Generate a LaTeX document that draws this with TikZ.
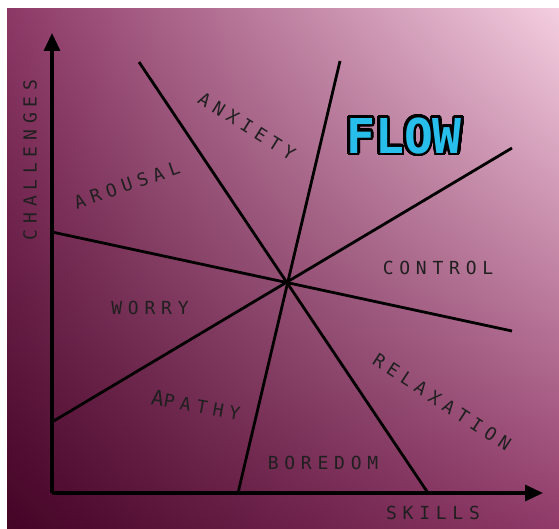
\documentclass[tikz,border=0pt]{standalone}
\usepackage{fontspec}
\usepackage{contour}
\usetikzlibrary{arrows.meta,shadings}
\newfontfamily\zonefont[LetterSpace=32]{DejaVu Sans Mono}
\newfontfamily\flowfont{DejaVu Sans Mono}
\definecolor{bgdark}{RGB}{68,4,38}
\definecolor{bgmidA}{RGB}{140,56,102}
\definecolor{bgmidB}{RGB}{144,58,105}
\definecolor{bglight}{RGB}{244,206,224}
\definecolor{flowcyan}{RGB}{40,190,235}
\contourlength{2.8pt}
\contournumber{40}
\tikzset{
  flowchart/.style={x=1pt,y={(0pt,-1pt)}},
  zone/.style={font=\zonefont\fontsize{18pt}{20pt}\selectfont,text=black!88,inner sep=0pt},
  axis/.style={line width=3.2pt,-{Triangle[length=18pt,width=16pt]}},
  divide/.style={line width=2.8pt}
}

\begin{document}
\begin{tikzpicture}[flowchart]
    \useasboundingbox (0,0) rectangle (559,529);
    \shade[lower left=bgdark,upper left=bgmidA,lower right=bgmidB,upper right=bglight]
        (7,9) rectangle (559,529);
    % axes
    \coordinate (origin) at (52,493);
    \coordinate (ytip) at (52,33);
    \coordinate (xtip) at (543,493);
    \draw[axis] (origin) -- (ytip);
    \draw[axis] (origin) -- (xtip);
    % dividing lines through the centre
    \coordinate (centre) at (287,283);
    \coordinate (wa) at (52,232);   \coordinate (wb) at (512,331);
    \coordinate (aa) at (52,422);   \coordinate (ab) at (512,148);
    \coordinate (xa) at (139,62);   \coordinate (xb) at (428,493);
    \coordinate (fa) at (340,61);   \coordinate (fb) at (238,493);
    \foreach \a/\b in {wa/wb,aa/ab,xa/xb,fa/fb}
        \draw[divide] (\a) -- (\b);
    % labels
    \node[zone,rotate=90] (challenges) at (30,160) {CHALLENGES};
    \node[zone] (skills) at (433,513) {SKILLS};
    \node[zone,rotate=19] (arousal) at (127,185) {AROUSAL};
    \node[zone,rotate=-32] (anxiety) at (247,126) {ANXIETY};
    \node[zone] (control) at (438,268) {CONTROL};
    \node[zone] (worry) at (150,308) {WORRY};
    \node[zone,rotate=-10] (apathy) at (196,405) {{\fontsize{21pt}{22pt}\selectfont A}PATHY};
    \node[zone] (boredom) at (323,463) {BOREDOM};
    \node[zone,rotate=-33] (relaxation) at (442,402) {RELAXATION};
    \node[font=\flowfont\bfseries\fontsize{48pt}{48pt}\selectfont,text=flowcyan,inner sep=0pt]
        (flow) at (404,137) {\contour{black}{FLOW}};
\end{tikzpicture}
\end{document}
